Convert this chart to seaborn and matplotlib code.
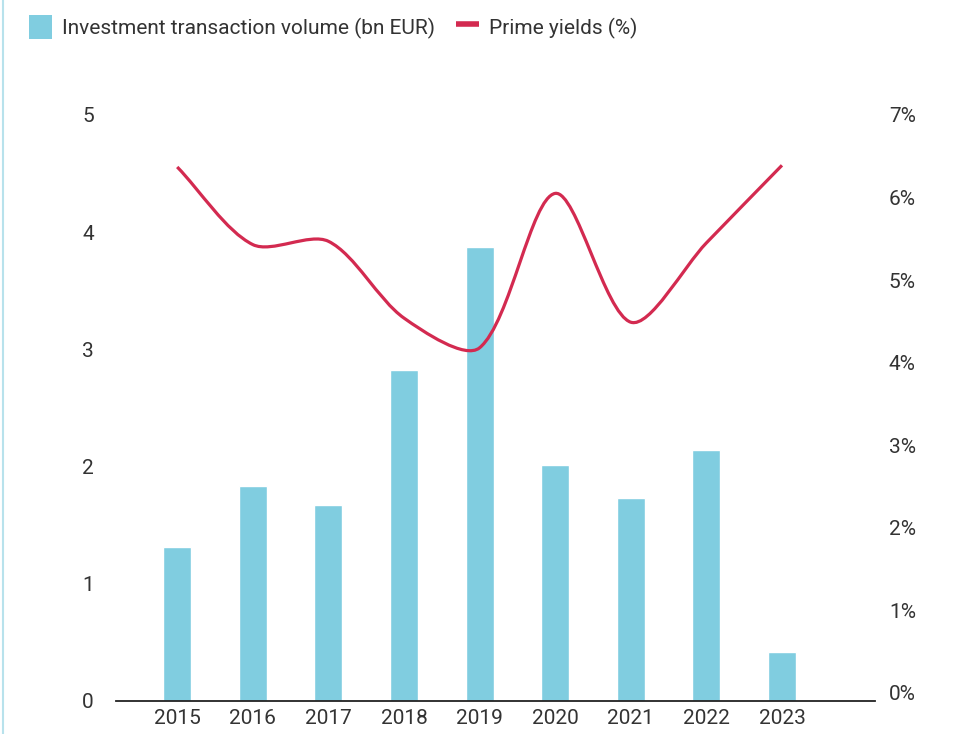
import numpy as np
import pandas as pd
import matplotlib
matplotlib.use("Agg")
import matplotlib.pyplot as plt
import seaborn as sns
from matplotlib.path import Path
from matplotlib.patches import PathPatch, Patch
from matplotlib.lines import Line2D

# Annual investment volume (bn EUR) and prime yields (%)
years = ["2015", "2016", "2017", "2018", "2019", "2020", "2021", "2022", "2023"]
volume = [1.31, 1.83, 1.67, 2.82, 3.87, 2.01, 1.73, 2.14, 0.42]
yields = [6.37, 5.43, 5.47, 4.54, 4.18, 6.05, 4.49, 5.45, 6.39]
left_ticks = [0, 1, 2, 3, 4, 5]
right_ticks = [0, 1, 2, 3, 4, 5, 6, 7]

BAR = "#80cde0"
RED = "#d32a50"
TXT = "#333333"

sns.set_theme(style="white")
plt.rcParams["font.family"] = ["Roboto", "DejaVu Sans"]

fig = plt.figure(figsize=(9.6, 7.34), dpi=100)
ax = fig.add_axes([0.1208, 0.045, 0.7906, 0.7984])

df = pd.DataFrame({"year": years, "volume": volume})
sns.barplot(data=df, x="year", y="volume", color=BAR, saturation=1,
            width=0.37, ax=ax)
ax.set_xlim(-0.81, 9.23)
ax.set_ylim(0, 5)
ax.set_yticks(left_ticks)
ax.set_xlabel("")
ax.set_ylabel("")

ax2 = ax.twinx()
ax2.set_ylim(-0.097, 7)
ax2.set_yticks(right_ticks)
ax2.set_yticklabels([f"{t}%" for t in right_ticks])


def smooth_path(xs, ys, tension=0.3, yscale=1.09):
    """Cubic Bezier path through the points, tension-style control points."""
    pts = np.column_stack([xs, np.asarray(ys, float) * yscale])
    n = len(pts)
    cps = []
    for i in range(n):
        prev = pts[max(i - 1, 0)]
        cur = pts[i]
        nxt = pts[min(i + 1, n - 1)]
        d01 = np.hypot(*(cur - prev))
        d12 = np.hypot(*(nxt - cur))
        tot = d01 + d12 if d01 + d12 > 0 else 1
        fa = tension * d01 / tot
        fb = tension * d12 / tot
        cps.append((cur - fa * (nxt - prev), cur + fb * (nxt - prev)))
    verts = [pts[0]]
    codes = [Path.MOVETO]
    for i in range(n - 1):
        verts += [cps[i][1], cps[i + 1][0], pts[i + 1]]
        codes += [Path.CURVE4] * 3
    verts = np.array(verts)
    verts[:, 1] /= yscale
    return Path(verts, codes)


path = smooth_path(np.arange(len(years)), yields)
ax2.add_patch(PathPatch(path, facecolor="none", edgecolor=RED, lw=2.3,
                        capstyle="butt", joinstyle="round"))

for a in (ax, ax2):
    for s in ("top", "left", "right", "bottom"):
        a.spines[s].set_visible(False)
ax.spines["bottom"].set_visible(True)
ax.spines["bottom"].set_color("#222222")
ax.spines["bottom"].set_linewidth(1.3)

ax.tick_params(axis="x", length=0, pad=6, labelsize=15, labelcolor=TXT)
ax.tick_params(axis="y", length=0, pad=16, labelsize=15, labelcolor=TXT)
ax2.tick_params(axis="y", length=0, pad=10, labelsize=15, labelcolor=TXT)
ax.grid(False)
ax2.grid(False)

handles = [Patch(facecolor=BAR, edgecolor="none"),
           Line2D([], [], color=RED, lw=4, solid_capstyle="butt")]
labels = ["Investment transaction volume (bn EUR)", "Prime yields (%)"]
fig.legend(handles, labels, loc="upper left",
           bbox_to_anchor=(29 / 960, 1 - 15 / 734),
           ncol=2, frameon=False, fontsize=15, handlelength=1.1,
           handleheight=1.4, columnspacing=1.0, handletextpad=0.5,
           borderaxespad=0, borderpad=0, labelcolor=TXT)

fig.add_artist(Line2D([0.003, 0.003], [0, 1], transform=fig.transFigure,
                      color="#b8e2ec", lw=1.5))

fig.savefig("out.png", dpi=100)
